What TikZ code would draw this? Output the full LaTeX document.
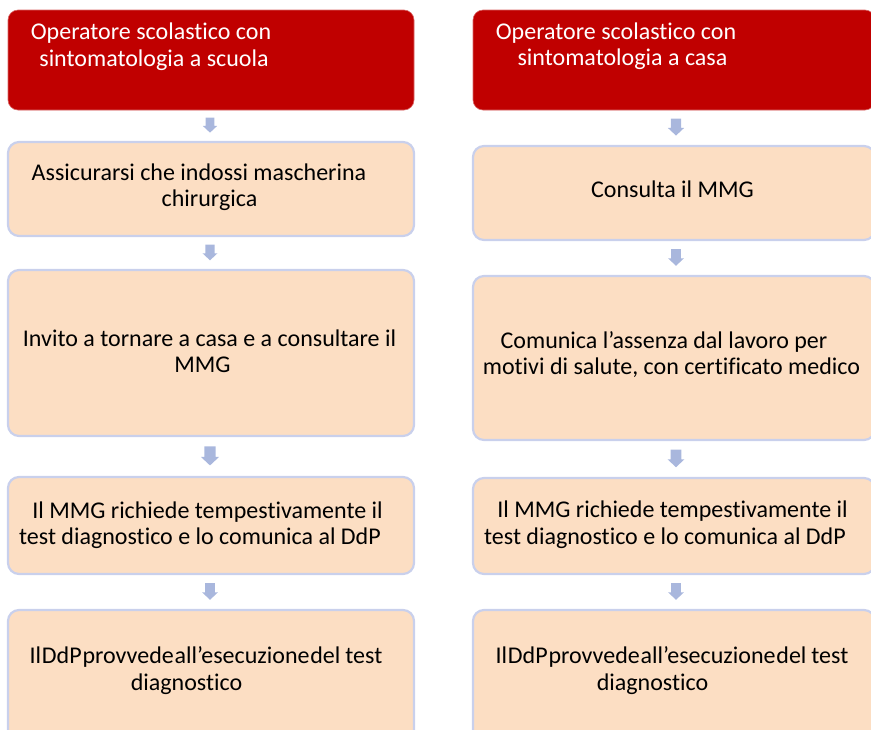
\documentclass[tikz,border=0pt]{standalone}
\usepackage{fontspec}
\setmainfont{Carlito}[Ligatures=NoCommon]
\usetikzlibrary{calc}
\definecolor{redbox}{HTML}{C00000}
\definecolor{peach}{HTML}{FCDEC3}
\definecolor{bordercol}{HTML}{C9D0EC}
\definecolor{arrowcol}{HTML}{A9B7DD}
\newcommand\tightspaces{\spaceskip=0.8pt plus 0.3pt\relax}
\tikzset{
  redstep/.style={fill=redbox, draw=redbox!60!white, line width=0.6pt, rounded corners=10pt, inner sep=0pt},
  peachstep/.style={fill=peach, draw=bordercol, line width=2.2pt, rounded corners=11pt, inner sep=0pt},
  txt/.style={anchor=base, inner sep=0pt, font=\fontsize{24}{28}\selectfont},
  wtxt/.style={txt, text=white},
  blockarrow/.style={fill=arrowcol}
}
% block arrow between two named boxes: #1 upper box, #2 lower box, #3 x shift
\newcommand\flowarrow[3]{%
  \path let \p1=($(#1.south)!0.24!(#2.north)$), \p2=($(#1.south)!0.73!(#2.north)$),
    \n1={(\y1-\y2)} in
    [blockarrow] ({\x1+#3-0.3*\n1},\y1) -- ({\x1+#3+0.3*\n1},\y1)
      -- ({\x1+#3+0.3*\n1},{\y2+0.45*\n1}) -- ({\x1+#3+0.48*\n1},{\y2+0.45*\n1})
      -- ({\x1+#3},\y2) -- ({\x1+#3-0.48*\n1},{\y2+0.45*\n1})
      -- ({\x1+#3-0.3*\n1},{\y2+0.45*\n1}) -- cycle;}
\begin{document}
\begin{tikzpicture}[x=1pt,y=-1pt]
\useasboundingbox (0,0) rectangle (871,729);
\clip (0,0) rectangle (871,729);
% left column
\node[redstep, minimum width=406pt, minimum height=100pt] (L1) at (211,60) {};
\node[peachstep, minimum width=406pt, minimum height=94pt] (L2) at (211,189) {};
\node[peachstep, minimum width=406pt, minimum height=166pt] (L3) at (211,353) {};
\node[peachstep, minimum width=406pt, minimum height=97pt] (L4) at (211,525.5) {};
\node[peachstep, minimum width=406pt, minimum height=135pt] (L5) at (211,677.5) {};
% right column
\node[redstep, minimum width=402pt, minimum height=100pt] (R1) at (674,60) {};
\node[peachstep, minimum width=402pt, minimum height=94pt] (R2) at (674,193) {};
\node[peachstep, minimum width=402pt, minimum height=164pt] (R3) at (674,358) {};
\node[peachstep, minimum width=402pt, minimum height=96pt] (R4) at (674,526) {};
\node[peachstep, minimum width=402pt, minimum height=135pt] (R5) at (674,677.5) {};
% texts left
\node[wtxt] (L1a) at (151,39) {Operatore scolastico con};
\node[wtxt] (L1b) at (154,66) {sintomatologia a scuola};
\node[txt] (L2a) at (199,180) {Assicurarsi che indossi mascherina};
\node[txt] (L2b) at (209.5,206) {chirurgica};
\node[txt] (L3a) at (209.5,346) {Invito a tornare a casa e a consultare il};
\node[txt] (L3b) at (202.5,372) {MMG};
\node[txt] (L4a) at (207.5,518) {Il MMG richiede tempestivamente il};
\node[txt] (L4b) at (200,544) {test diagnostico e lo comunica al DdP};
\node[txt] (L5a) at (206,663) {\tightspaces Il DdP provvede all’esecuzione del\hspace{5pt}test};
\node[txt] (L5b) at (186.5,690) {diagnostico};
% texts right
\node[wtxt] (R1a) at (616,39) {Operatore scolastico con};
\node[wtxt] (R1b) at (622.5,65) {sintomatologia a casa};
\node[txt] (R2a) at (672.5,197) {Consulta il MMG};
\node[txt] (R3a) at (664,348) {Comunica l’assenza dal lavoro per};
\node[txt] (R3b) at (671.5,374) {motivi di salute, con certificato medico};
\node[txt] (R4a) at (672.5,517) {Il MMG richiede tempestivamente il};
\node[txt] (R4b) at (665,544) {test diagnostico e lo comunica al DdP};
\node[txt] (R5a) at (672,663) {\tightspaces Il DdP provvede all’esecuzione del\hspace{5pt}test};
\node[txt] (R5b) at (652.5,690) {diagnostico};
% arrows
\flowarrow{L1}{L2}{-1}
\flowarrow{L2}{L3}{-1}
\flowarrow{L3}{L4}{-1}
\flowarrow{L4}{L5}{-1}
\flowarrow{R1}{R2}{2}
\flowarrow{R2}{R3}{2}
\flowarrow{R3}{R4}{2}
\flowarrow{R4}{R5}{2}
\end{tikzpicture}
\end{document}
